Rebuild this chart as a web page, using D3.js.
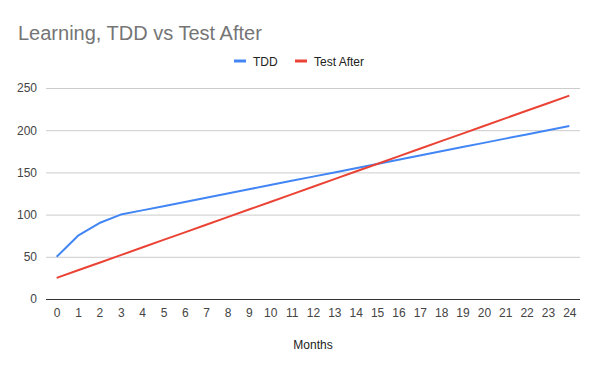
<!DOCTYPE html>
<html><head><meta charset="utf-8">
<script src="https://cdn.jsdelivr.net/npm/d3@7"></script>
<style>body{margin:0;background:#fff;}svg{display:block;font-family:"Liberation Sans",Arial,sans-serif;}</style>
</head><body>
<svg id="c" width="600" height="371"></svg>
<script>
const months = d3.range(0, 25);
const tdd = [50,75,90,100,105,110,115,120,125,130,135,140,145,150,155,160,165,170,175,180,185,190,195,200,205];
const testAfter = [25,34,43,52,61,70,79,88,97,106,115,124,133,142,151,160,169,178,187,196,205,214,223,232,241];
const yTicks = [0,50,100,150,200,250];
const seriesNames = ["TDD","Test After"];
const colors = ["#4285f4","#ea4335"];

const svg = d3.select("#c");
svg.append("rect").attr("width",600).attr("height",371).attr("fill","#fff");
const m = {l:46, r:20, t:88, b:72};
const W = 600 - m.l - m.r, H = 371 - m.t - m.b;
const x = d3.scaleLinear().domain([-0.5,24.5]).range([m.l, m.l+W]);
const y = d3.scaleLinear().domain([0,250]).range([m.t+H, m.t]);

svg.append("text").attr("x",18).attr("y",40).attr("font-size",20).attr("fill","#757575").text("Learning, TDD vs Test After");

// grid
const gy = svg.append("g").attr("transform",`translate(${m.l},0)`)
  .call(d3.axisLeft(y).tickValues(yTicks).tickSize(-W).tickPadding(9));
gy.select(".domain").remove();
gy.selectAll(".tick line").attr("stroke","#cccccc");
gy.selectAll(".tick text").attr("font-size",12).attr("fill","#444").attr("font-family","Liberation Sans, Arial, sans-serif");
gy.selectAll(".tick").filter(d=>d===0).select("line").attr("stroke","#333");

const gx = svg.append("g").attr("transform",`translate(0,${m.t+H})`)
  .call(d3.axisBottom(x).tickValues(months).tickSize(0).tickPadding(9));
gx.select(".domain").remove();
gx.selectAll(".tick text").attr("font-size",12).attr("fill","#444").attr("font-family","Liberation Sans, Arial, sans-serif");

svg.append("text").attr("x",x(12)).attr("y",349).attr("text-anchor","middle").attr("font-size",12).attr("fill","#222").text("Months");

const line = d3.line().x((d,i)=>x(months[i])).y(d=>y(d));
[tdd,testAfter].forEach((s,i)=>{
  svg.append("path").datum(s).attr("d",line).attr("fill","none").attr("stroke",colors[i]).attr("stroke-width",2).attr("stroke-linejoin","round");
});

// legend
const lg = svg.append("g");
const items = [{x:234},{x:295}];
seriesNames.forEach((n,i)=>{
  lg.append("line").attr("x1",items[i].x).attr("x2",items[i].x+12).attr("y1",61).attr("y2",61).attr("stroke",colors[i]).attr("stroke-width",3);
  lg.append("text").attr("x",items[i].x+19).attr("y",65.5).attr("font-size",12).attr("fill","#222").text(n);
});
</script>
</body></html>
